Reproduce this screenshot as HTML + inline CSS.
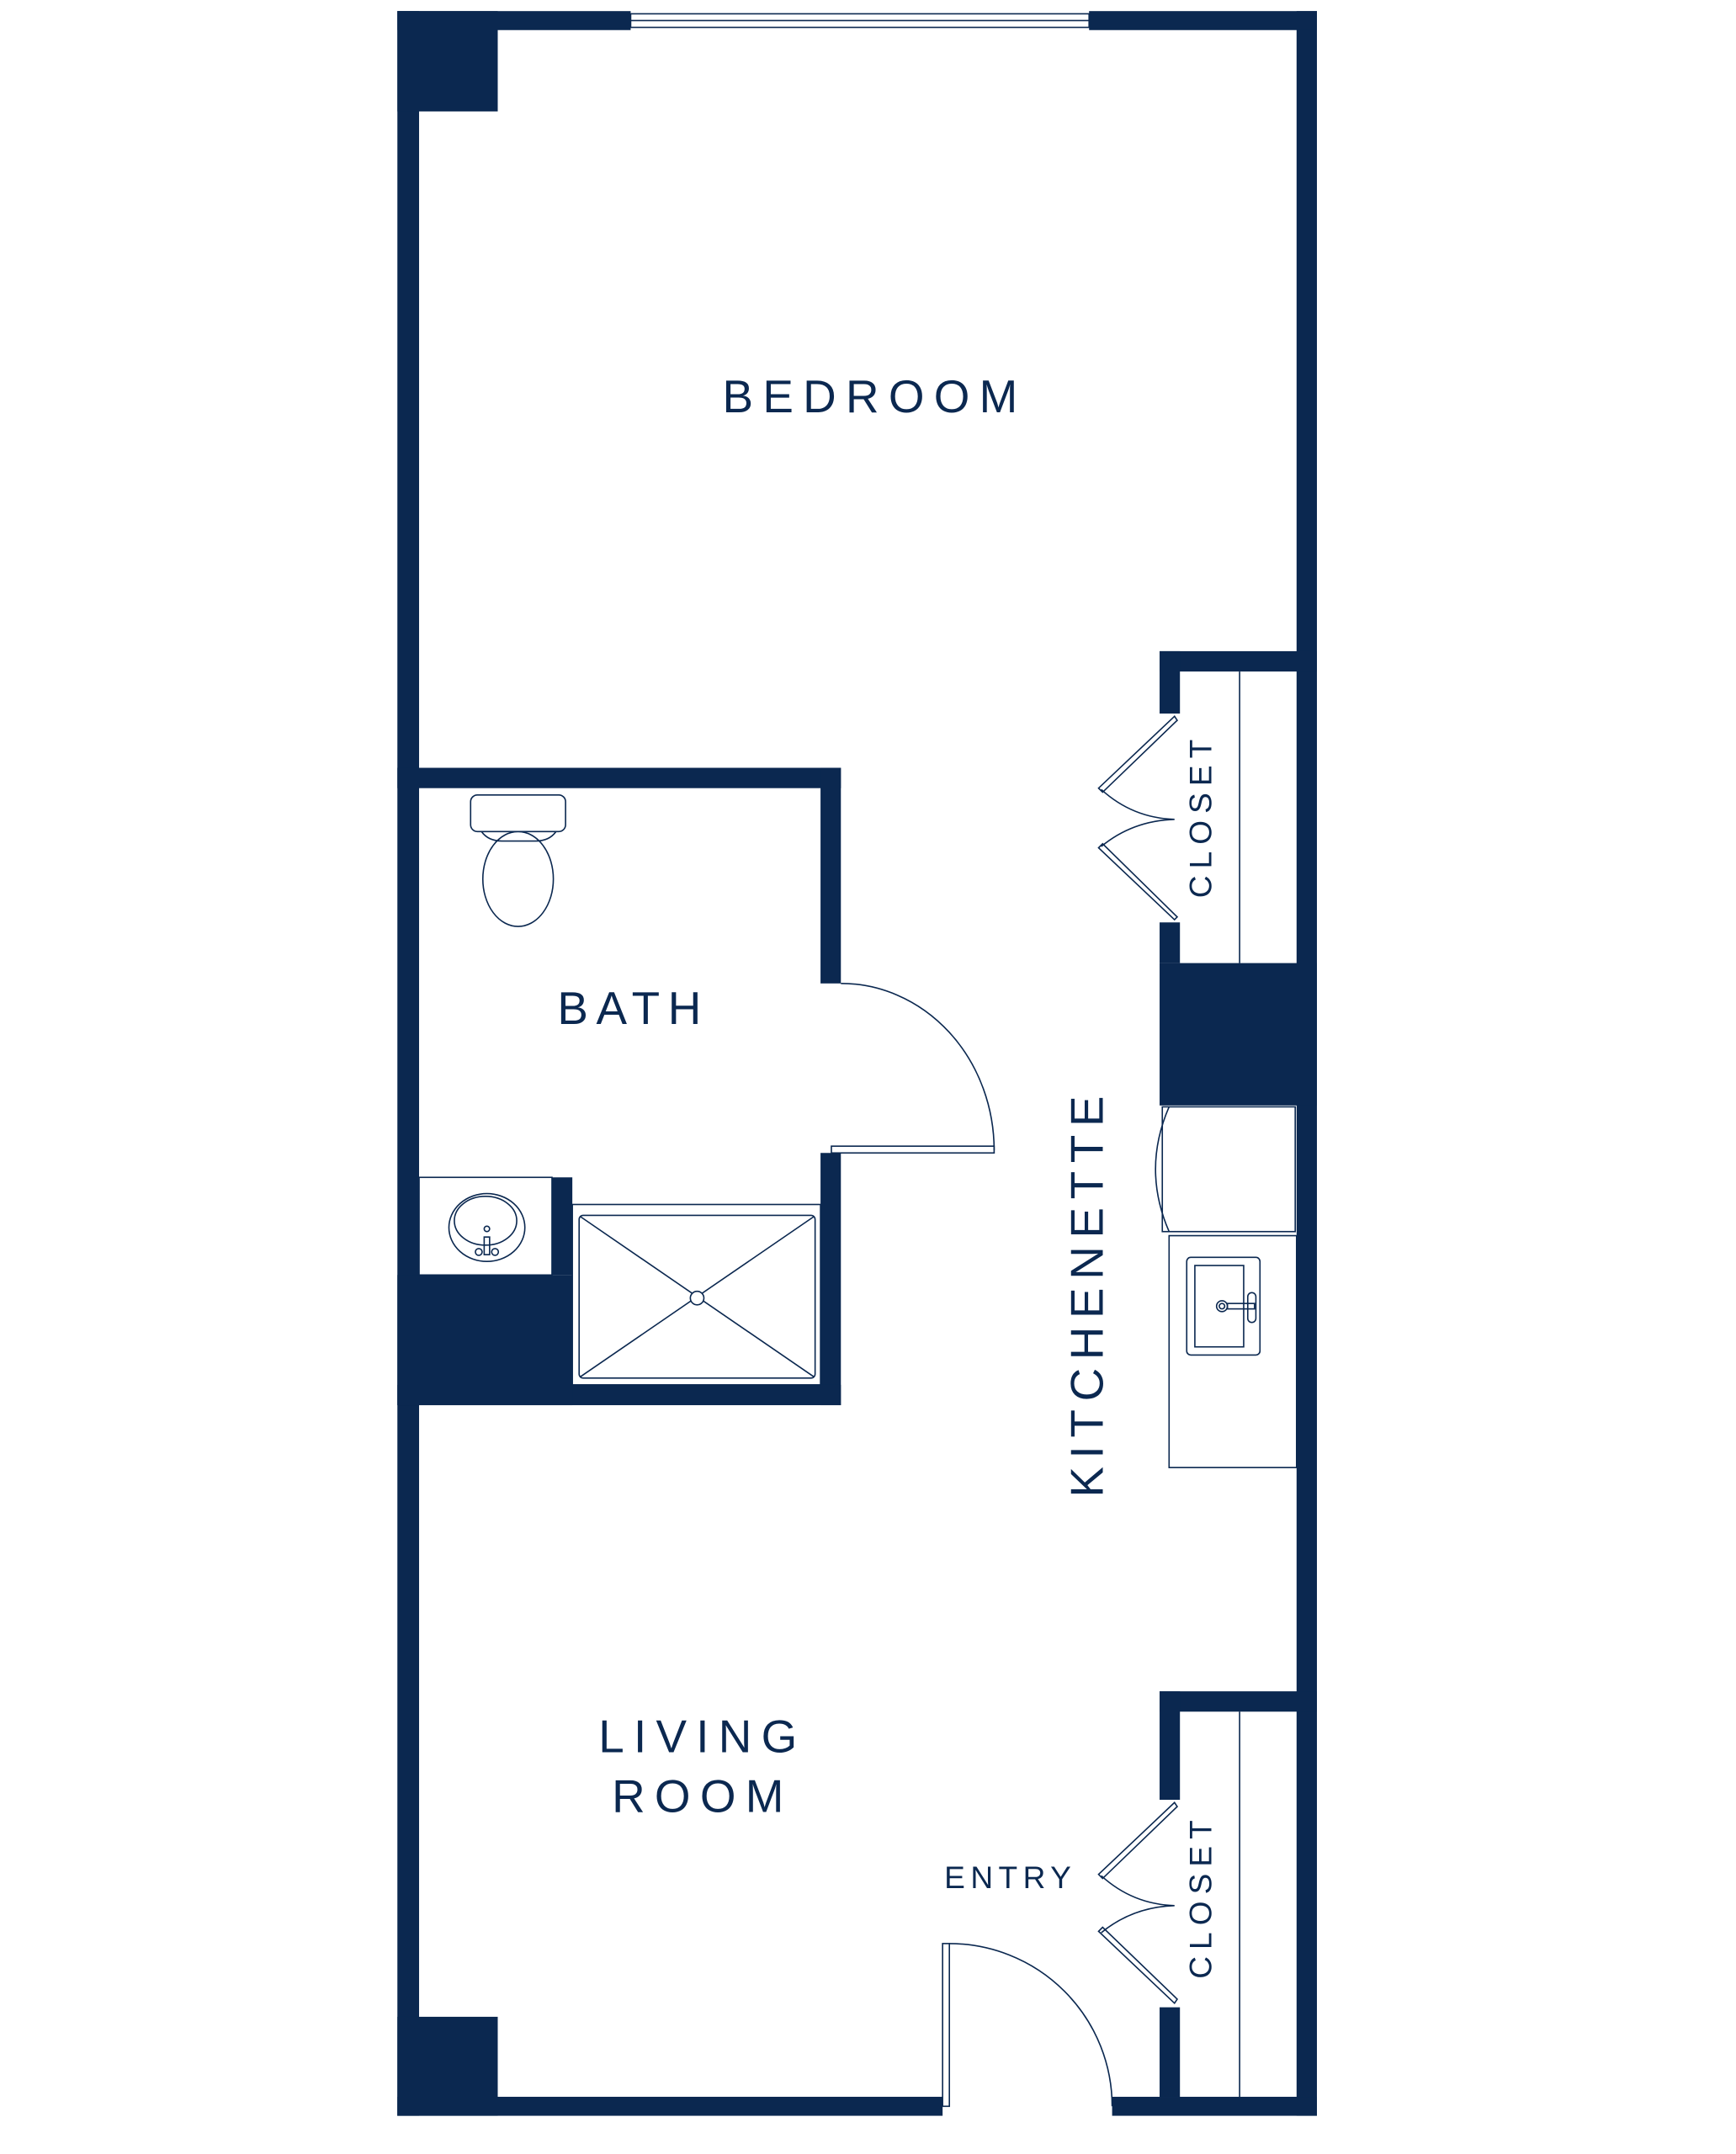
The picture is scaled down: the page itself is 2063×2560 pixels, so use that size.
<!DOCTYPE html>
<html><head><style>
html,body{margin:0;padding:0;background:#fff;}
svg{display:block;}
text{font-family:"Liberation Sans",sans-serif;fill:#0b2850;}
</style></head><body>
<svg width="2063" height="2560" viewBox="0 0 1280 1588" xmlns="http://www.w3.org/2000/svg">
<g fill="#0b2850">
<rect x="293" y="8" width="16" height="1552"/>
<rect x="956" y="8" width="15" height="1552"/>
<rect x="293" y="8" width="172" height="14"/>
<rect x="803" y="8" width="168" height="14"/>
<rect x="293" y="1546" width="402" height="14"/>
<rect x="820" y="1546" width="151" height="14"/>
<rect x="293" y="8" width="74" height="74"/>
<rect x="293" y="1487" width="74" height="73"/>
<rect x="855" y="480" width="116" height="15"/>
<rect x="855" y="480" width="15" height="46"/>
<rect x="855" y="680" width="15" height="30"/>
<rect x="855" y="710" width="116" height="105"/>
<rect x="855" y="1247" width="116" height="15"/>
<rect x="855" y="1247" width="15" height="80"/>
<rect x="855" y="1480" width="15" height="66"/>
<rect x="293" y="566" width="327" height="15"/>
<rect x="605" y="566" width="15" height="159"/>
<rect x="605" y="850" width="15" height="186"/>
<rect x="293" y="1021" width="327" height="15"/>
<rect x="293" y="940" width="129" height="96"/>
<rect x="407" y="868" width="15" height="72"/>
</g>
<g fill="none" stroke="#0b2850" stroke-width="1">
<rect x="465" y="10" width="338" height="10"/>
<line x1="465" y1="15" x2="803" y2="15"/>
<line x1="914" y1="495" x2="914" y2="710"/>
<line x1="914" y1="1262" x2="914" y2="1546"/>
<!-- closet doors -->
<path d="M866 528 L810 581 L813 584 L868 531 Z"/>
<path d="M866 678 L810 625 L813 622 L868 676 Z"/>
<path d="M812 582 Q835 603 866 604 Q835 605 812 624"/>
<path d="M866 1329 L810 1382 L813 1385 L868 1332 Z"/>
<path d="M866 1477 L810 1424 L813 1421 L868 1474 Z"/>
<path d="M812 1383 Q835 1404 866 1405 Q835 1406 812 1425"/>
<!-- bath door -->
<path d="M620 725 A113 123 0 0 1 733 848"/>
<rect x="613" y="845" width="120" height="5"/>
<!-- entry door -->
<rect x="695" y="1433" width="5" height="120"/>
<path d="M700 1433 A120 120 0 0 1 820 1553"/>
<!-- toilet -->
<rect x="347" y="586" width="70" height="27" rx="5"/>
<path d="M355 613 Q360 620 370 620 L395 620 Q405 620 410 613"/>
<ellipse cx="382" cy="648" rx="26" ry="35"/>
<!-- vanity & sink -->
<rect x="309" y="868" width="98" height="72"/>
<ellipse cx="359" cy="905" rx="28" ry="25"/>
<ellipse cx="358" cy="900" rx="23" ry="18"/>
<circle cx="359" cy="906" r="2"/>
<rect x="357" y="912" width="4" height="13"/>
<circle cx="353" cy="923" r="2.5"/>
<circle cx="365" cy="923" r="2.5"/>
<!-- shower -->
<rect x="422" y="888" width="183" height="133"/>
<rect x="427" y="896" width="174" height="120" rx="3"/>
<line x1="428" y1="897" x2="600" y2="1015"/>
<line x1="600" y1="897" x2="428" y2="1015"/>
<circle cx="514" cy="957" r="5" fill="#fff"/>
<!-- kitchen -->
<rect x="857" y="816" width="98" height="92"/>
<path d="M862 816 Q842 862 862 908"/>
<rect x="862" y="911" width="94" height="171"/>
<rect x="875" y="927" width="54" height="72" rx="3"/>
<rect x="881" y="933" width="36" height="60"/>
<circle cx="901" cy="963" r="4"/>
<circle cx="901" cy="963" r="2"/>
<rect x="905" y="961" width="20" height="4"/>
<rect x="920" y="953" width="6" height="22" rx="3"/>
</g>
<g font-size="34" text-anchor="middle">
<text x="645" y="304" letter-spacing="7">BEDROOM</text>
<text x="467" y="755" letter-spacing="6">BATH</text>
<text x="518" y="1292" letter-spacing="7">LIVING</text>
<text x="518" y="1336" letter-spacing="7">ROOM</text>
<text transform="translate(813,953) rotate(-90)" letter-spacing="6">KITCHENETTE</text>
</g>
<g font-size="23" text-anchor="middle">
<text x="745" y="1392" letter-spacing="4">ENTRY</text>
<text transform="translate(893,601) rotate(-90)" letter-spacing="5">CLOSET</text>
<text transform="translate(893,1398) rotate(-90)" letter-spacing="5">CLOSET</text>
</g>
</svg>
</body></html>
